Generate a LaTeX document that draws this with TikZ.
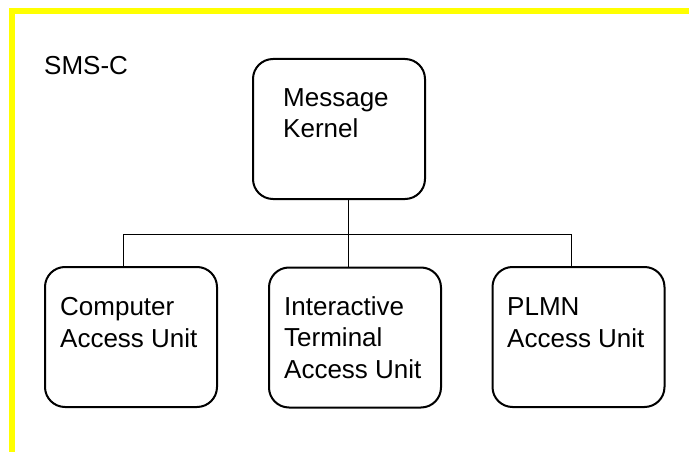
\documentclass[tikz,border=0pt]{standalone}
\usepackage{fontspec}
\setmainfont{Liberation Sans}
\definecolor{frameyellow}{RGB}{255,255,0}
\tikzset{
  unitbox/.style={draw=black, line width=2pt, rounded corners=20pt, minimum width=172pt, minimum height=140pt, inner sep=0pt},
  lbl/.style={anchor=base west, inner sep=0pt, align=left, font=\fontsize{26}{31.5}\selectfont},
  wire/.style={draw=black, line width=1pt}
}
\begin{document}
\begin{tikzpicture}[x=1pt,y=-1pt]
\useasboundingbox (0,0) rectangle (689,452);
\fill[frameyellow] (9,8) rectangle (689,14);
\fill[frameyellow] (9,8) rectangle (15,452);

\node[unitbox] (kernel) at (339,129) {};
\node[unitbox] (comp) at (131,337) {};
\node[unitbox] (inter) at (355,337.5) {};
\node[unitbox] (plmn) at (578.5,337) {};

% anchor base west = baseline of the last line
\node[lbl] (smsc) at (44,75) {SMS-C};
\node[lbl] (kernelt) at (283,138) {Message\\Kernel};
\node[lbl] (compt) at (60,347) {Computer\\Access Unit};
\node[lbl] (intert) at (284,378) {Interactive\\Terminal\\Access Unit};
\node[lbl] (plmnt) at (507,347) {PLMN\\Access Unit};

\coordinate (busL) at (123.5,234);
\coordinate (busM) at (348,234);
\coordinate (busR) at (571.5,234);
\draw[wire] (busL) -- (busR);
\draw[wire] (busM |- kernel.south) -- (busM |- inter.north);
\draw[wire] (busL) -- (busL |- comp.north);
\draw[wire] (busR) -- (busR |- plmn.north);
\end{tikzpicture}
\end{document}
